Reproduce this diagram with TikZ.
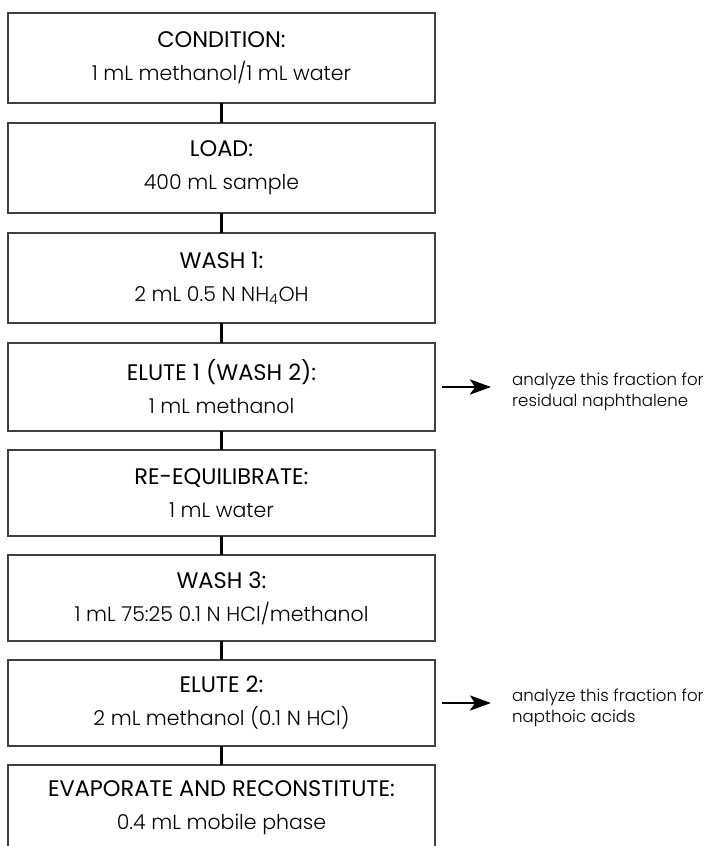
\documentclass[tikz,border=0pt]{standalone}
\usepackage{fontspec}
\setmainfont{Poppins}
\newfontfamily\lightfont{Poppins}[UprightFont={* Light}]
\usetikzlibrary{positioning,arrows.meta}

\tikzset{
  stepbox/.style={draw=black!75, line width=1.6pt, minimum width=427pt, minimum height=90pt,
    align=center, inner sep=0pt, outer sep=0pt, font=\fontsize{22.5}{26}\selectfont},
  lowbox/.style={stepbox, minimum height=86pt},
  link/.style={line width=2.4pt},
  outarrow/.style={line width=2.8pt, -{Stealth[length=21pt,width=15pt,inset=5pt]},
    shorten <=7pt, shorten >=21pt},
  note/.style={anchor=west, align=left, inner sep=0pt, font=\lightfont\fontsize{16.6}{20.5}\selectfont}
}
\newcommand{\steptext}[2]{#1\\[7pt]{\lightfont\fontsize{20.5}{26}\selectfont #2}}

\begin{document}
\begin{tikzpicture}[x=1pt,y=1pt]
	\useasboundingbox (0,0) rectangle (711,-846);
	\clip (0,0) rectangle (711,-846);
	% extraction steps
	\node[stepbox] (cond) at (221.5,-58) {\steptext{CONDITION:}{1 mL methanol/1 mL water}};
	\node[stepbox, below=20pt of cond] (load) {\steptext{LOAD:}{400 mL sample}};
	\node[stepbox, below=20pt of load] (washa) {\steptext{WASH 1:}{2 mL 0.5 N NH\textsubscript{4}OH}};
	\node[stepbox, minimum height=88pt, below=20pt of washa] (elutea) {\steptext{ELUTE 1 (WASH 2):}{1 mL methanol}};
	\node[lowbox, below=19pt of elutea] (reeq) {\steptext{RE-EQUILIBRATE:}{1 mL water}};
	\node[lowbox, below=19pt of reeq] (washc) {\steptext{WASH 3:}{1 mL 75:25 0.1 N HCl/methanol}};
	\node[lowbox, below=19pt of washc] (eluteb) {\steptext{ELUTE 2:}{2 mL methanol (0.1 N HCl)}};
	\node[lowbox, below=19pt of eluteb] (evap) {\steptext{EVAPORATE AND RECONSTITUTE:}{0.4 mL mobile phase}};
	\foreach \a/\b in {cond/load, load/washa, washa/elutea, elutea/reeq, reeq/washc, washc/eluteb, eluteb/evap}
		\draw[link] (\a) -- (\b);
	% fractions to analyze
	\node[note] (notea) at ([xshift=77pt,yshift=-5pt]elutea.east) {analyze this fraction for\\residual naphthalene};
	\node[note] (noteb) at ([xshift=77pt,yshift=-5pt]eluteb.east) {analyze this fraction for\\napthoic acids};
	\draw[outarrow] (elutea.east) -- (elutea.east -| notea.west);
	\draw[outarrow] (eluteb.east) -- (eluteb.east -| noteb.west);
\end{tikzpicture}
\end{document}
